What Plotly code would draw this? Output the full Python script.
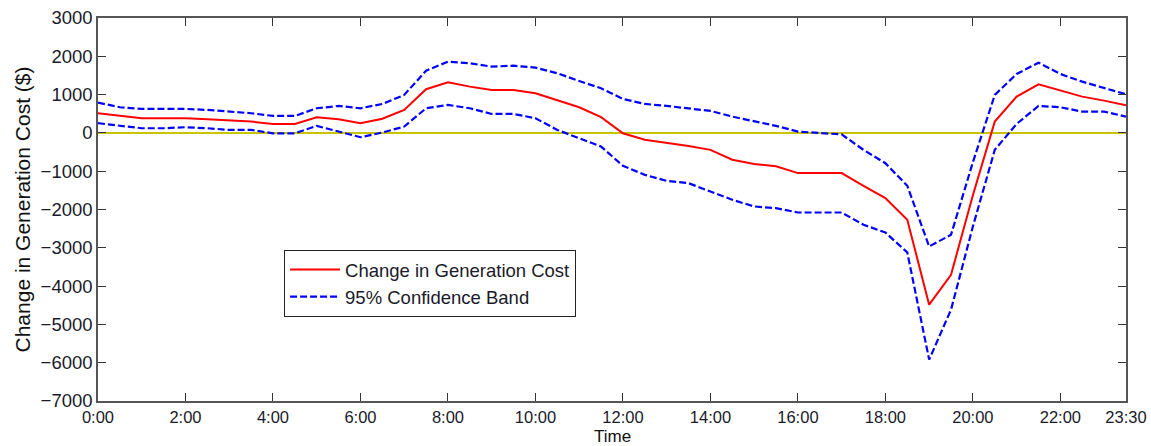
import plotly.graph_objects as go

# half-hourly time stamps (hours)
times = [i * 0.5 for i in range(48)]

change_cost = [515, 443, 383, 383, 380, 357, 320, 295, 235, 235,
               410, 357, 253, 370, 600, 1140, 1322, 1208, 1121, 1121,
               1035, 860, 670, 410, -10, -180, -250, -340, -443, -700,
               -810, -870, -1050, -1050, -1050, -1382, -1703, -2268, -4485, -3703,
               -1625, 295, 947, 1270, 1104, 947, 843, 723]

upper_band = [790, 670, 626, 626, 626, 600, 556, 513, 443, 443,
              643, 704, 643, 756, 991, 1625, 1860, 1817, 1730, 1755,
              1703, 1556, 1356, 1165, 887, 756, 704, 643, 574, 425,
              313, 183, 35, -10, -40, -443, -791, -1382, -2965, -2660,
              -765, 991, 1538, 1834, 1538, 1338, 1165, 1008]

lower_band = [253, 183, 122, 122, 148, 122, 78, 78, -10, -10,
              183, 35, -113, 10, 165, 643, 730, 643, 495, 495,
              383, 78, -140, -357, -860, -1095, -1252, -1312, -1530, -1747,
              -1920, -1965, -2078, -2078, -2078, -2400, -2600, -3121, -5920, -4615,
              -2443, -443, 235, 704, 670, 556, 556, 425]

x_tick_vals = [0, 2, 4, 6, 8, 10, 12, 14, 16, 18, 20, 22, 23.5]
x_tick_text = ["0:00", "2:00", "4:00", "6:00", "8:00", "10:00", "12:00",
               "14:00", "16:00", "18:00", "20:00", "22:00", "23:30"]
y_tick_vals = [3000, 2000, 1000, 0, -1000, -2000, -3000, -4000, -5000, -6000, -7000]

FONT = "Arial, Liberation Sans, sans-serif"

fig = go.Figure()

# zero reference line
fig.add_trace(go.Scatter(x=[times[0], times[-1]], y=[0, 0], mode="lines",
                         line=dict(color="#C8C400", width=2), showlegend=False,
                         hoverinfo="skip"))

fig.add_trace(go.Scatter(x=times, y=change_cost, mode="lines",
                         name="Change in Generation Cost",
                         line=dict(color="#FF0000", width=2)))
fig.add_trace(go.Scatter(x=times, y=upper_band, mode="lines",
                         name="95% Confidence Band",
                         line=dict(color="#0000FF", width=2.2, dash="7px,3px")))
fig.add_trace(go.Scatter(x=times, y=lower_band, mode="lines",
                         name="95% Confidence Band", showlegend=False,
                         line=dict(color="#0000FF", width=2.2, dash="7px,3px")))

axis_common = dict(showline=True, linecolor="#555555", linewidth=1.5, mirror="ticks",
                   ticks="inside", ticklen=8, tickcolor="#333333", tickwidth=1,
                   showgrid=False, zeroline=False, automargin=False)

fig.update_layout(
    width=1151, height=446,
    margin=dict(l=98, r=25, t=18, b=45),
    paper_bgcolor="white", plot_bgcolor="white",
    font=dict(family=FONT, color="#111111"),
    xaxis=dict(range=[0, 23.5], tickvals=x_tick_vals, ticktext=x_tick_text,
               tickfont=dict(family=FONT, size=16.5, color="#1a1a2a"),
               **axis_common),
    yaxis=dict(range=[-7000, 3000], tickvals=y_tick_vals,
               tickfont=dict(family=FONT, size=18.5, color="#1a1a2a"),
               title=dict(text="Change in Generation Cost ($)",
                          font=dict(size=21, color="#111111"), standoff=4),
               **axis_common),
    legend=dict(x=0.181, y=0.394, xanchor="left", yanchor="top",
                bgcolor="white", bordercolor="#222222", borderwidth=1,
                font=dict(family=FONT, size=18.5, color="#1a1a2a"),
                tracegroupgap=0, itemwidth=50),
    showlegend=True,
    annotations=[dict(text="Time", xref="paper", yref="paper", x=0.5, y=-0.092,
                      xanchor="center", yanchor="middle", showarrow=False,
                      font=dict(family=FONT, size=17, color="#111111"))],
)

fig.write_html("out.html")
